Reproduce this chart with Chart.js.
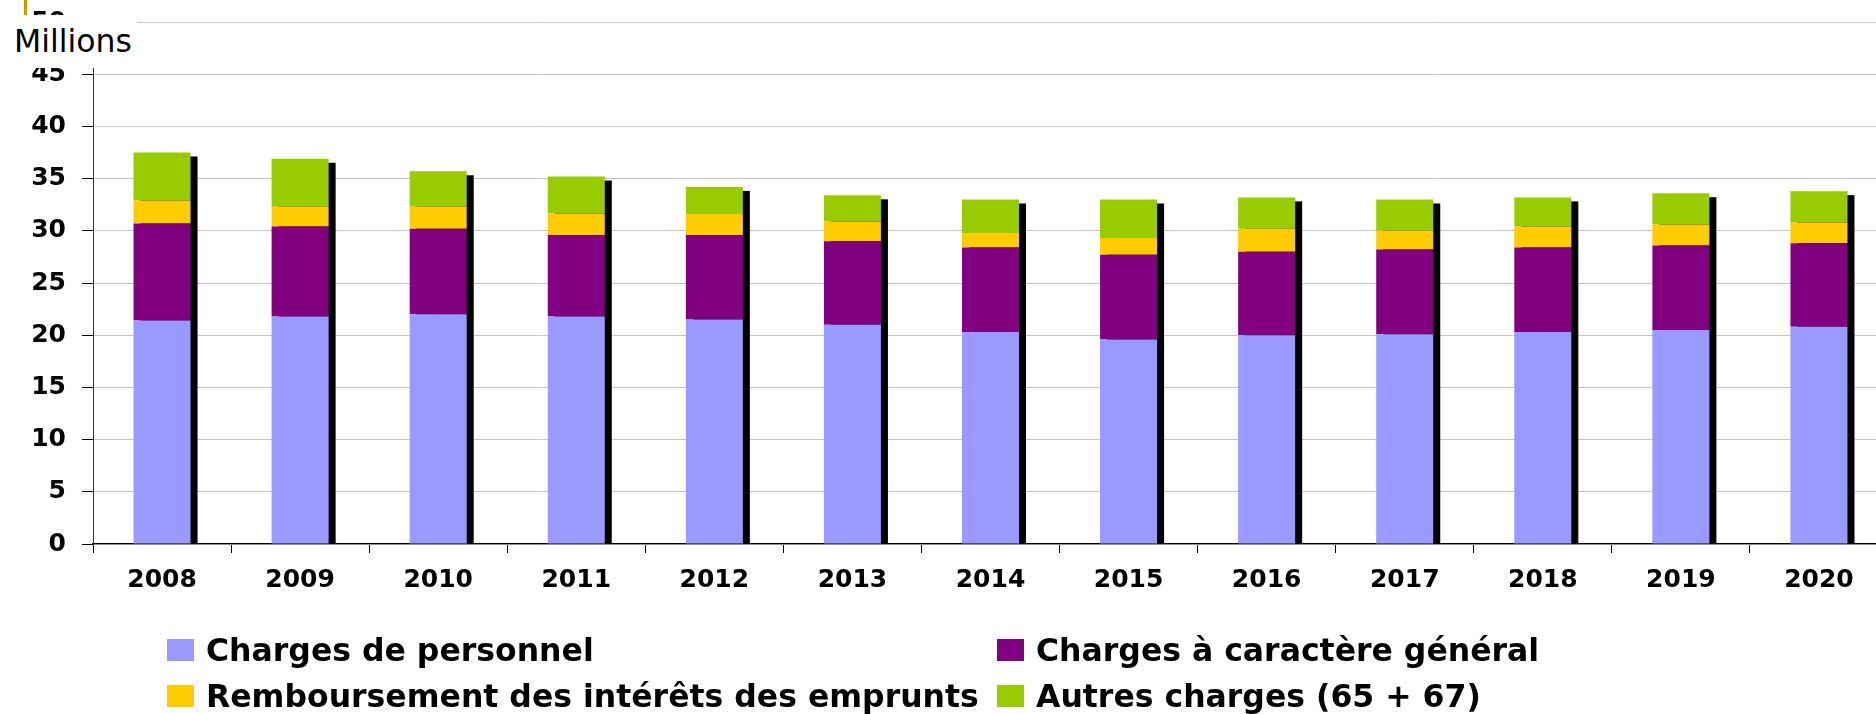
<!DOCTYPE html>
<html>
<head>
<meta charset="utf-8">
<script src="https://cdn.jsdelivr.net/npm/chart.js@4"></script>
<style>
body { margin: 0; overflow: hidden; background: #fff; }
#wrap { position: relative; width: 1888px; height: 714px; }
#unit { position: absolute; left: 0; top: 15px; width: 137px; height: 53px; background: #fff;
  font: 31.5px "DejaVu Sans"; line-height: 53px; padding-left: 14px; box-sizing: border-box; color: #000; }
#mark { position: absolute; left: 24px; top: 0; width: 3px; height: 15px; background: #cc9900; }
#legend { position: absolute; left: 167px; top: 627px; display: grid; grid-template-columns: 830px auto;
  font: bold 31.5px "DejaVu Sans"; color: #000; }
#legend div { display: flex; align-items: center; height: 46px; white-space: nowrap; }
#legend span { display: inline-block; width: 27px; height: 22px; margin-right: 12px; }
</style>
</head>
<body>
<div id="wrap">
	<canvas id="chargesChart" width="1888" height="714"></canvas>
	<div id="unit">Millions</div>
	<div id="mark"></div>
	<div id="legend"></div>
</div>
<script>
const years = ['2008', '2009', '2010', '2011', '2012', '2013', '2014', '2015', '2016', '2017', '2018', '2019', '2020'];
const personnel = [21.4, 21.8, 22.0, 21.8, 21.5, 21.0, 20.3, 19.6, 20.0, 20.1, 20.3, 20.5, 20.8];
const general = [9.3, 8.6, 8.2, 7.8, 8.1, 8.0, 8.1, 8.1, 8.0, 8.1, 8.1, 8.1, 8.0];
const interets = [2.2, 1.9, 2.1, 2.05, 2.0, 1.9, 1.4, 1.6, 2.2, 1.8, 2.0, 2.0, 2.0];
const autres = [4.6, 4.6, 3.4, 3.55, 2.6, 2.5, 3.2, 3.7, 3.0, 3.0, 2.8, 3.0, 3.0];
const seriesNames = ['Charges de personnel', 'Charges à caractère général', 'Remboursement des intérêts des emprunts', 'Autres charges (65 + 67)'];
const seriesColors = ['#9999ff', '#800080', '#ffcc00', '#99cc00'];

// black shadow behind each stacked column
const shadowPlugin = {
	id: 'shadow',
	beforeDatasetsDraw(chart) {
		const ctx = chart.ctx;
		const last = chart.getDatasetMeta(chart.data.datasets.length - 1);
		const base = chart.scales.y.getPixelForValue(0);
		ctx.save();
		ctx.fillStyle = '#000';
		last.data.forEach(bar => {
			const w = bar.width;
			ctx.fillRect(bar.x - w / 2 + 7, bar.y + 4, w, base - bar.y - 4);
		});
		ctx.restore();
	}
};

const ctx = document.getElementById('chargesChart');
const chart = new Chart(ctx, {
	type: 'bar',
	data: {
		labels: years,
		datasets: [personnel, general, interets, autres].map((d, i) => ({
			label: seriesNames[i],
			data: d,
			backgroundColor: seriesColors[i],
			borderWidth: 0,
			barPercentage: 0.413,
			categoryPercentage: 1
		}))
	},
	options: {
		responsive: false,
		animation: false,
		devicePixelRatio: 1,
		layout: { padding: { top: 0, right: 0, bottom: 119, left: 0 } },
		plugins: { legend: { display: false }, tooltip: { enabled: false } },
		scales: {
			x: {
				stacked: true,
				afterFit: s => { s.height = 51; },
				grid: { drawOnChartArea: false, tickLength: 9, tickColor: '#000' },
				border: { color: '#000', width: 1.3 },
				ticks: { color: '#000', padding: 12, font: { family: 'DejaVu Sans', size: 25, weight: 'bold' } }
			},
			y: {
				stacked: true,
				min: 0,
				max: 50,
				afterFit: s => { s.width = 93; s.paddingTop = 22; },
				grid: { color: '#c4c4c4', tickLength: 11, tickColor: '#000' },
				border: { color: '#333', width: 1 },
				ticks: { stepSize: 5, color: '#000', padding: 16, font: { family: 'DejaVu Sans', size: 25, weight: 'bold' } }
			}
		}
	},
	plugins: [shadowPlugin]
});

const legend = document.getElementById('legend');
chart.data.datasets.forEach(ds => {
	const item = document.createElement('div');
	const box = document.createElement('span');
	box.style.background = ds.backgroundColor;
	item.appendChild(box);
	item.appendChild(document.createTextNode(ds.label));
	legend.appendChild(item);
});
</script>
</body>
</html>
